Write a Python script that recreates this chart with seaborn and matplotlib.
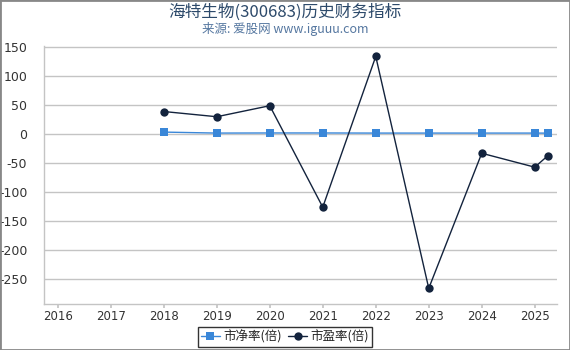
import matplotlib
matplotlib.use("Agg")
import matplotlib.pyplot as plt
import seaborn as sns
import pandas as pd

years = [2018, 2019, 2020, 2021, 2022, 2023, 2024, 2025, 2025.25]
pb = [3.5, 1.8, 2.0, 2.0, 1.8, 1.8, 1.8, 1.8, 1.7]
pe = [39, 30, 49, -126, 134, -266, -33, -57, -37]
xticks = [2016, 2017, 2018, 2019, 2020, 2021, 2022, 2023, 2024, 2025]
yticks = [150, 100, 50, 0, -50, -100, -150, -200, -250]

sns.set_theme(style="white")
plt.rcParams['font.family'] = ['DejaVu Sans', 'Noto Sans CJK SC']
plt.rcParams['axes.unicode_minus'] = False

df = pd.DataFrame({"year": years, "pb": pb, "pe": pe})

fig = plt.figure(figsize=(5.7, 3.5), dpi=100)
ax = fig.add_axes([44/570, 1-304/350, (557-44)/570, (304-46)/350])

sns.lineplot(data=df, x="year", y="pb", ax=ax, color="#3a87d8", marker="s",
             markersize=6, markeredgewidth=0, linewidth=1, label="市净率(倍)")
sns.lineplot(data=df, x="year", y="pe", ax=ax, color="#13233d", marker="o",
             markersize=6, markeredgewidth=0, linewidth=1, label="市盈率(倍)")

ax.set_xlim(2015.74, 2025.42)
ax.set_ylim(-293, 152)
ax.set_xticks(xticks)
ax.set_xticklabels([str(x) for x in xticks])
ax.set_yticks(yticks)
ax.set_yticklabels([str(y) for y in yticks])
ax.set_xlabel("")
ax.set_ylabel("")
ax.yaxis.grid(True, color="#c4c4c4", linewidth=1)
ax.xaxis.grid(False)
for s in ["top", "right"]:
    ax.spines[s].set_visible(False)
for s in ["left", "bottom"]:
    ax.spines[s].set_color("#c4c4c4")
    ax.spines[s].set_linewidth(1)
ax.tick_params(axis="x", bottom=True, length=3, color="#c4c4c4", labelsize=8.5, labelcolor="#333333", pad=1)
ax.tick_params(axis="y", left=False, labelsize=9, labelcolor="#333333", pad=6)

leg = fig.legend(*ax.get_legend_handles_labels(), loc="upper center",
                 bbox_to_anchor=(0.5, 1-327/350), bbox_transform=fig.transFigure,
                 ncol=2, frameon=True, handlelength=1.5, borderaxespad=0,
                 handletextpad=0.3, columnspacing=0.5, borderpad=0.25,
                 fancybox=False, prop={"family": ["Noto Sans CJK SC", "DejaVu Sans"], "size": 9})
ax.get_legend().remove()
leg.get_frame().set_edgecolor("black")
leg.get_frame().set_linewidth(1)

fig.text(0.5, 1-12/350, "海特生物(300683)历史财务指标", ha="center", va="center",
         fontsize=12, color="#2d4a6b", family=["Noto Sans CJK SC", "DejaVu Sans"])
fig.text(0.5, 1-29/350, "来源: 爱股网 www.iguuu.com", ha="center", va="center",
         fontsize=9, color="#5577a0", family=["Noto Sans CJK SC", "DejaVu Sans"])

border = plt.Rectangle((0, 0), 1, 1, transform=fig.transFigure, fill=False,
                       edgecolor="#888888", linewidth=2)
fig.patches.append(border)

fig.savefig("out.png", dpi=100)
